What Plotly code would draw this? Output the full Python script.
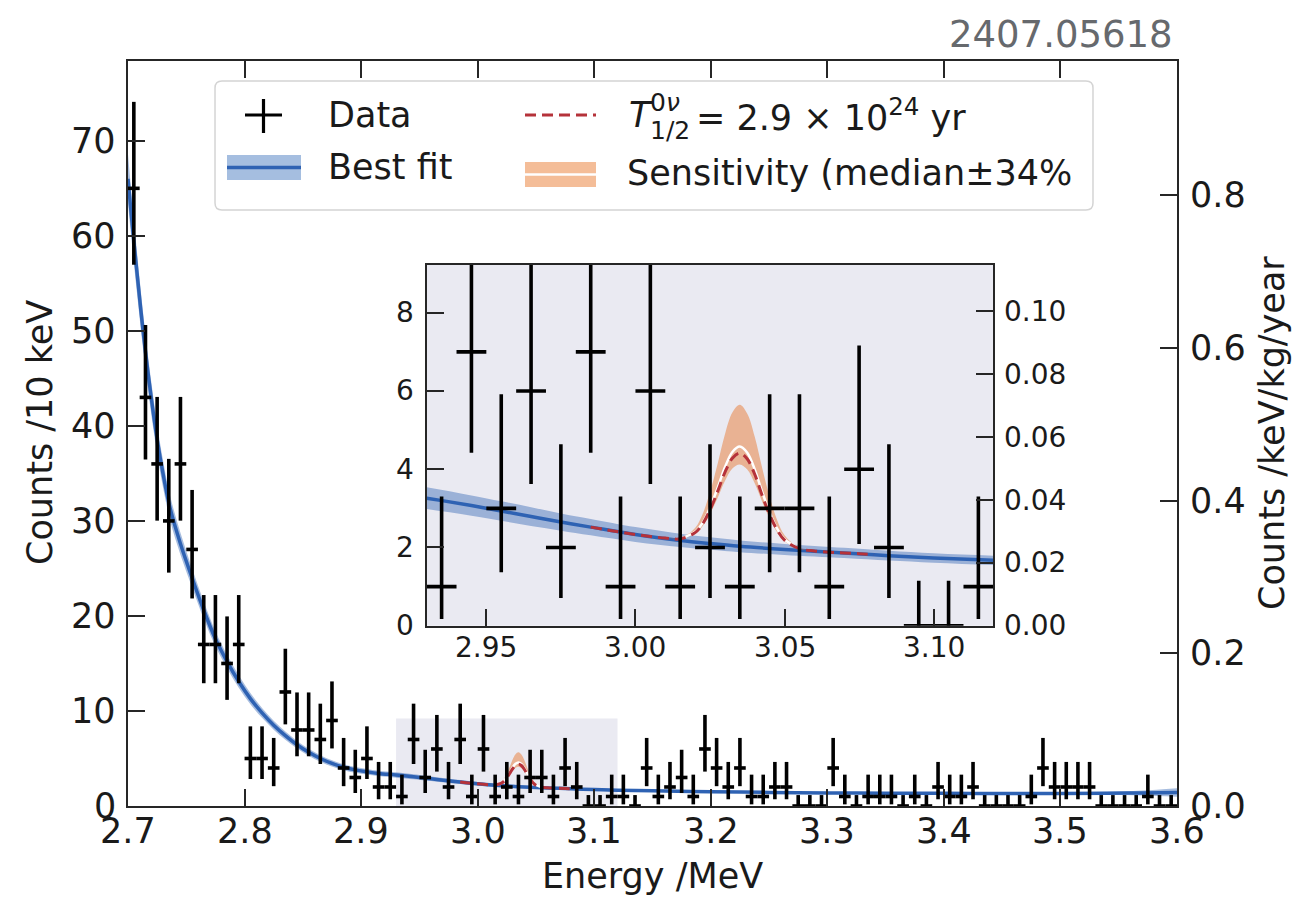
import numpy as np
import plotly.graph_objects as go

# ---------------- data ----------------
E_MIN, E_MAX = 2.7, 3.6          # MeV
BIN_W = 0.01                     # 10 keV bins
COUNTS = [65, 43, 36, 30, 36, 27, 17, 17, 15, 17,
          5, 5, 4, 12, 8, 8, 7, 9, 4, 3,
          5, 2, 2, 1, 7, 3, 6, 2, 7, 1,
          6, 1, 2, 1, 3, 3, 1, 4, 2, 0,
          0, 1, 1, 0, 4, 1, 2, 3, 1, 6,
          4, 2, 4, 1, 1, 2, 2, 0, 0, 0,
          4, 1, 0, 1, 1, 1, 0, 1, 0, 2,
          1, 1, 2, 0, 0, 0, 0, 1, 4, 2,
          2, 2, 2, 0, 0, 0, 0, 1, 0, 0]

# 68% Poisson intervals used for the error bars (n -> [lo, hi])
POIS_N = [0, 1, 2, 3, 4, 5, 6, 7, 8, 9, 12, 15, 17, 27, 30, 36, 43, 65]
POIS_LO = [0.0, 0.173, 0.708, 1.367, 2.086, 2.840, 3.620, 4.419, 5.232, 6.057,
           8.59, 11.17, 12.92, 21.84, 24.56, 30.03, 36.47, 56.96]
POIS_HI = [1.15, 3.300, 4.638, 5.918, 7.163, 8.382, 9.584, 10.77, 11.95, 13.11,
           16.55, 19.95, 22.2, 33.26, 36.53, 43.05, 50.61, 74.10]

# best fit curve and its band (half width)
FIT_E = [2.700, 2.703, 2.707, 2.711, 2.715, 2.720, 2.725, 2.730, 2.736, 2.745,
         2.755, 2.765, 2.775, 2.785, 2.795, 2.805, 2.815, 2.825, 2.835, 2.845,
         2.855, 2.865, 2.875, 2.885, 2.895, 2.905, 2.915, 2.930, 2.945, 2.955,
         2.965, 2.975, 2.985, 3.000, 3.015, 3.025, 3.035, 3.050, 3.070, 3.085,
         3.100, 3.120, 3.150, 3.200, 3.250, 3.300, 3.350, 3.400, 3.450, 3.500,
         3.540, 3.570, 3.600]
FIT_Y = [66.0, 62.0, 57.0, 52.2, 47.8, 42.9, 38.6, 35.0, 31.4, 27.6,
         24.0, 20.6, 17.6, 15.2, 13.1, 11.3, 9.8, 8.5, 7.4, 6.45,
         5.65, 5.0, 4.48, 4.08, 3.8, 3.6, 3.43, 3.26, 3.07, 2.93,
         2.79, 2.65, 2.52, 2.33, 2.18, 2.10, 2.03, 1.95, 1.86, 1.79,
         1.73, 1.67, 1.60, 1.50, 1.43, 1.38, 1.35, 1.33, 1.32, 1.32,
         1.34, 1.37, 1.42]
FIT_ERR = [2.6, 2.4, 2.2, 2.0, 1.85, 1.7, 1.55, 1.42, 1.3, 1.15,
           1.0, 0.9, 0.8, 0.72, 0.65, 0.58, 0.52, 0.47, 0.43, 0.40,
           0.37, 0.35, 0.33, 0.31, 0.30, 0.29, 0.28, 0.28, 0.26, 0.25,
           0.24, 0.22, 0.21, 0.19, 0.17, 0.16, 0.15, 0.14, 0.13, 0.125,
           0.12, 0.12, 0.11, 0.10, 0.10, 0.10, 0.10, 0.10, 0.10, 0.12,
           0.16, 0.26, 0.45]

# signal hypothesis T1/2 = 2.9e24 yr and sensitivity band
SIG_E = [2.985, 2.990, 2.995, 3.000, 3.005, 3.010, 3.015, 3.020, 3.0225, 3.025,
         3.0275, 3.030, 3.0325, 3.035, 3.0375, 3.040, 3.0425, 3.045, 3.0475, 3.050,
         3.055, 3.060, 3.065, 3.070, 3.075, 3.080]
SIG_Y = [2.52, 2.455, 2.39, 2.33, 2.28, 2.24, 2.22, 2.38, 2.60, 2.96,
         3.42, 3.92, 4.28, 4.41, 4.26, 3.87, 3.33, 2.84, 2.45, 2.19,
         1.97, 1.91, 1.88, 1.86, 1.84, 1.815]
SENS_HI = [2.52, 2.455, 2.39, 2.33, 2.28, 2.24, 2.24, 2.50, 2.85, 3.41,
           4.12, 4.89, 5.45, 5.65, 5.42, 4.83, 4.03, 3.29, 2.70, 2.31,
           1.99, 1.91, 1.88, 1.86, 1.84, 1.815]
SENS_LO = [2.52, 2.455, 2.39, 2.33, 2.28, 2.234, 2.215, 2.35, 2.54, 2.86,
           3.26, 3.70, 4.02, 4.12, 3.99, 3.64, 3.17, 2.74, 2.39, 2.16,
           1.965, 1.91, 1.88, 1.86, 1.84, 1.815]
SENS_MED_E = [3.015, 3.020, 3.0225, 3.025, 3.0275, 3.030, 3.0325, 3.035, 3.0375,
              3.040, 3.0425, 3.045, 3.0475, 3.050, 3.055]
SENS_MED = [2.22, 2.40, 2.63, 3.02, 3.51, 4.05, 4.44, 4.58, 4.42,
            3.995, 3.42, 2.90, 2.48, 2.21, 1.97]

Y_MAX = 78.4                      # main y range (counts)
INSET_X = [2.93, 3.12]
INSET_YMAX = 9.22
RATE_PER_COUNT = 0.01245          # counts/10keV -> counts/keV/kg/year

MAIN_XTICKS = [2.7, 2.8, 2.9, 3.0, 3.1, 3.2, 3.3, 3.4, 3.5, 3.6]
MAIN_YTICKS = [0, 10, 20, 30, 40, 50, 60, 70]
MAIN_Y2TICKS = [0.0, 0.2, 0.4, 0.6, 0.8]
INSET_XTICKS = [2.95, 3.00, 3.05, 3.10]
INSET_YTICKS = [0, 2, 4, 6, 8]
INSET_Y2TICKS = [0.00, 0.02, 0.04, 0.06, 0.08, 0.10]

# ---------------- styling ----------------
W, H = 1298, 897
PL, PR, PT, PB = 128, 1177, 61, 806      # plot-area pixel box
INSET_PX = (426.7, 993.3, 265.0, 625.7)  # inset box: left, right, top, bottom
FONT = "DejaVu Sans"
TXT = "#1a1a1a"
AX = "#262626"
LAV = "#eaeaf2"
BLUE = "#2e62b3"
BLUE_BAND = "rgba(46,98,179,0.42)"
ORANGE_BAND = "rgba(232,122,52,0.5)"
RED = "#b5323a"


def px(x):
    return (x - PL) / (PR - PL)


def py(y):
    return (PB - y) / (PB - PT)


centers = E_MIN + BIN_W * (np.arange(len(COUNTS)) + 0.5)
lo_map = dict(zip(POIS_N, POIS_LO))
hi_map = dict(zip(POIS_N, POIS_HI))
err_plus = [hi_map[n] - n for n in COUNTS]
err_minus = [n - lo_map[n] for n in COUNTS]
fit_lo = [y - e for y, e in zip(FIT_Y, FIT_ERR)]
fit_hi = [y + e for y, e in zip(FIT_Y, FIT_ERR)]

fig = go.Figure()


def add_set(xa, ya):
    common = dict(xaxis=xa, yaxis=ya, showlegend=False, hoverinfo="skip")
    fig.add_trace(go.Scatter(x=FIT_E, y=fit_lo, mode="lines", line=dict(width=0, shape="spline"), **common))
    fig.add_trace(go.Scatter(x=FIT_E, y=fit_hi, mode="lines", line=dict(width=0, shape="spline"),
                             fill="tonexty", fillcolor=BLUE_BAND, **common))
    fig.add_trace(go.Scatter(x=FIT_E, y=FIT_Y, mode="lines",
                             line=dict(color=BLUE, width=3.5, shape="spline"), **common))
    fig.add_trace(go.Scatter(x=SIG_E, y=SENS_LO, mode="lines", line=dict(width=0, shape="spline"), **common))
    fig.add_trace(go.Scatter(x=SIG_E, y=SENS_HI, mode="lines", line=dict(width=0, shape="spline"),
                             fill="tonexty", fillcolor=ORANGE_BAND, **common))
    fig.add_trace(go.Scatter(x=SENS_MED_E, y=SENS_MED, mode="lines",
                             line=dict(color="white", width=2.5, shape="spline"), **common))
    fig.add_trace(go.Scatter(x=SIG_E, y=SIG_Y, mode="lines",
                             line=dict(color=RED, width=3, dash="11px,6px", shape="spline"), **common))
    fig.add_trace(go.Scatter(
        x=centers, y=COUNTS, mode="markers", marker=dict(size=0.1, color="black"),
        error_y=dict(type="data", symmetric=False, array=err_plus, arrayminus=err_minus,
                     color="black", thickness=3.6, width=0),
        error_x=dict(type="constant", value=BIN_W / 2, color="black", thickness=3.6, width=0),
        **common))


add_set("x", "y")
add_set("x2", "y3")
# invisible traces so the secondary (rate) axes are drawn
fig.add_trace(go.Scatter(x=[3.0], y=[0.0], xaxis="x", yaxis="y2", mode="markers",
                         marker=dict(opacity=0), showlegend=False, hoverinfo="skip"))
fig.add_trace(go.Scatter(x=[3.0], y=[0.0], xaxis="x2", yaxis="y4", mode="markers",
                         marker=dict(opacity=0), showlegend=False, hoverinfo="skip"))

tick_common = dict(ticks="inside", ticklen=17, tickwidth=1.6, tickcolor=AX,
                   showline=True, linewidth=2, linecolor=AX, showgrid=False,
                   zeroline=False, showticklabels=False)

inset_dom_x = [px(INSET_PX[0]), px(INSET_PX[1])]
inset_dom_y = [py(INSET_PX[3]), py(INSET_PX[2])]

fig.update_layout(
    width=W, height=H,
    margin=dict(l=PL, r=W - PR, t=PT, b=H - PB, autoexpand=False),
    paper_bgcolor="white", plot_bgcolor="rgba(0,0,0,0)",
    showlegend=False,
    xaxis=dict(domain=[0, 1], range=[E_MIN, E_MAX], tickvals=MAIN_XTICKS,
               mirror="ticks", anchor="y", **tick_common),
    yaxis=dict(domain=[0, 1], range=[0, Y_MAX], tickvals=MAIN_YTICKS, anchor="x", **tick_common),
    yaxis2=dict(overlaying="y", side="right", anchor="x", range=[0, Y_MAX * RATE_PER_COUNT],
                tickvals=MAIN_Y2TICKS, **tick_common),
    xaxis2=dict(domain=inset_dom_x, range=INSET_X, tickvals=INSET_XTICKS,
                anchor="y3", mirror=True, **tick_common),
    yaxis3=dict(domain=inset_dom_y, range=[0, INSET_YMAX], tickvals=INSET_YTICKS, anchor="x2",
                **tick_common),
    yaxis4=dict(overlaying="y3", side="right", anchor="x2", range=[0, INSET_YMAX * RATE_PER_COUNT],
                tickvals=INSET_Y2TICKS, **tick_common),
)

shapes = []
# highlighted region in the main plot
shapes.append(dict(type="rect", xref="x", yref="y", x0=INSET_X[0], x1=INSET_X[1], y0=0, y1=INSET_YMAX,
                   fillcolor=LAV, line=dict(width=0), layer="below"))
# inset background
shapes.append(dict(type="rect", xref="x2 domain", yref="y3 domain", x0=0, x1=1, y0=0, y1=1,
                   fillcolor=LAV, line=dict(width=0), layer="below"))


def rrect_path(x0, y0, x1, y1, r):
    pts = [("M", [(x0 + r, y0)]), ("L", [(x1 - r, y0)]), ("Q", [(x1, y0), (x1, y0 + r)]),
           ("L", [(x1, y1 - r)]), ("Q", [(x1, y1), (x1 - r, y1)]), ("L", [(x0 + r, y1)]),
           ("Q", [(x0, y1), (x0, y1 - r)]), ("L", [(x0, y0 + r)]), ("Q", [(x0, y0), (x0 + r, y0)])]
    s = ""
    for cmd, ps in pts:
        s += cmd + " " + " ".join(f"{px(a):.5f},{py(b):.5f}" for a, b in ps) + " "
    return s + "Z"


# legend frame
shapes.append(dict(type="path", xref="paper", yref="paper", path=rrect_path(215, 81, 1093, 210, 7),
                   fillcolor="rgba(255,255,255,0.85)", line=dict(color="#d4d4d4", width=1.5), layer="above"))


def pline(x0, y0, x1, y1, color, width, dash=None):
    ln = dict(color=color, width=width)
    if dash:
        ln["dash"] = dash
    return dict(type="line", xref="paper", yref="paper", x0=px(x0), y0=py(y0), x1=px(x1), y1=py(y1),
                line=ln, layer="above")


def prect(x0, y0, x1, y1, color):
    return dict(type="rect", xref="paper", yref="paper", x0=px(x0), y0=py(y0), x1=px(x1), y1=py(y1),
                fillcolor=color, line=dict(width=0), layer="above")


# legend glyphs
shapes.append(pline(245, 115, 282, 115, "black", 3.2))
shapes.append(pline(263.5, 99, 263.5, 133, "black", 3.2))
shapes.append(prect(227, 155, 301, 180, "rgb(165,190,224)"))
shapes.append(pline(227, 167.5, 301, 167.5, BLUE, 3.5))
shapes.append(pline(525, 115, 596, 115, RED, 3, "11px,6px"))
shapes.append(prect(525, 162, 596, 187, "rgb(244,189,152)"))
shapes.append(pline(525, 174.5, 596, 174.5, "white", 2.5))
fig.update_layout(shapes=shapes)


def ann(text, x, y, size=35, xanchor="left", yanchor="middle", angle=0, color=TXT):
    return dict(text=text, x=px(x), y=py(y), xref="paper", yref="paper", showarrow=False,
                xanchor=xanchor, yanchor=yanchor, textangle=angle,
                font=dict(family=FONT, size=size, color=color))


def tick_ann(text, x, y, xref, yref, xanchor, size):
    return dict(text=text, x=x, y=y, xref=xref, yref=yref, showarrow=False,
                xanchor=xanchor, yanchor="middle", borderpad=0,
                font=dict(family=FONT, size=size, color=TXT))


annotations = [
    ann("Data", 326, 115),
    ann("Best fit", 326, 167),
    ann("<i>T</i>", 627, 115),
    ann("0<i>ν</i>", 648, 103, size=25),
    ann("1/2", 648, 130, size=25),
    ann("= 2.9 × 10<sup>24</sup> yr", 694, 115),
    ann("Sensitivity (median±34%", 625, 173),
    ann("Counts /10 keV", 40, 433, angle=-90, xanchor="center"),
    ann("Energy /MeV", 652.5, 876, xanchor="center"),
    ann("Counts /keV/kg/year", 1272, 433, angle=-90, xanchor="center"),
    ann("2407.05618", 1175, 35, size=37, xanchor="right", color="#66696d"),
]
# tick labels (placed as text at the axes' tick values)
for v in MAIN_XTICKS:
    annotations.append(tick_ann(f"{v:.1f}", v, py(831), "x", "paper", "center", 35))
for v in MAIN_YTICKS:
    annotations.append(tick_ann(f"{v:d}", px(117), v, "paper", "y", "right", 35))
for v in MAIN_Y2TICKS:
    annotations.append(tick_ann(f"{v:.1f}", px(1189), v, "paper", "y2", "left", 35))
for v in INSET_XTICKS:
    annotations.append(tick_ann(f"{v:.2f}", v, py(647), "x2", "paper", "center", 28))
for v in INSET_YTICKS:
    annotations.append(tick_ann(f"{v:d}", px(415), v, "paper", "y3", "right", 28))
for v in INSET_Y2TICKS:
    annotations.append(tick_ann(f"{v:.2f}", px(1003), v, "paper", "y4", "left", 28))
fig.update_layout(annotations=annotations)

fig.write_html("out.html")
